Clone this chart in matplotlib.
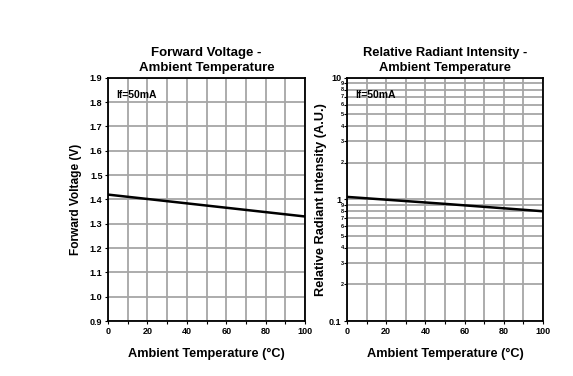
import matplotlib
matplotlib.use('Agg')
import matplotlib.pyplot as plt
from matplotlib.ticker import FixedLocator, NullFormatter

# data (If = 50mA)
temps = [0, 50, 100]
forward_voltage = [1.42, 1.375, 1.33]
relative_intensity = [1.05, 0.92, 0.80]

x_ticks = [0, 20, 40, 60, 80, 100]
vf_ticks = [0.9, 1.0, 1.1, 1.2, 1.3, 1.4, 1.5, 1.6, 1.7, 1.8, 1.9]

plt.rcParams['font.family'] = ['Liberation Sans', 'DejaVu Sans']
plt.rcParams['font.weight'] = 'bold'

grid_col = '#a6a6a6'

fig = plt.figure(figsize=(5.73, 3.76), dpi=100)
ax1 = fig.add_axes([0.1885, 0.146, 0.344, 0.647])
ax2 = fig.add_axes([0.6056, 0.146, 0.342, 0.647])

# left: forward voltage
ax1.plot(temps, forward_voltage, color='black', lw=1.8, zorder=3)
ax1.set_xlim(0, 100)
ax1.set_ylim(0.9, 1.9)
ax1.set_xticks(x_ticks)
ax1.set_xticks(range(0, 101, 10), minor=True)
ax1.set_yticks(vf_ticks)
ax1.set_yticklabels(['%.1f' % v for v in vf_ticks])
ax1.grid(True, which='both', axis='x', color=grid_col, lw=1.3)
ax1.grid(True, which='major', axis='y', color=grid_col, lw=1.3)
ax1.set_title('Forward Voltage -\nAmbient Temperature', fontsize=9.5,
              fontweight='bold', pad=5, linespacing=1.35)
ax1.set_xlabel('Ambient Temperature (°C)', fontsize=9.2, fontweight='bold', labelpad=9)
ax1.set_ylabel('Forward Voltage (V)', fontsize=8.6, fontweight='bold')
ax1.yaxis.set_label_coords(-0.132, 0.5)
ax1.text(0.04, 0.95, 'If=50mA', transform=ax1.transAxes, fontsize=7.5,
         fontweight='bold', va='top', ha='left')

# right: relative radiant intensity (log)
ax2.plot(temps, relative_intensity, color='black', lw=1.8, zorder=3)
ax2.set_yscale('log')
ax2.set_xlim(0, 100)
ax2.set_ylim(0.1, 10)
ax2.set_xticks(x_ticks)
ax2.set_xticks(range(0, 101, 10), minor=True)
ax2.yaxis.set_major_locator(FixedLocator([0.1, 1, 10]))
ax2.set_yticklabels(['0.1', '1', '10'])
minors = [m * d for d in (0.1, 1) for m in range(2, 10)]
ax2.yaxis.set_minor_locator(FixedLocator(minors))
ax2.yaxis.set_minor_formatter(NullFormatter())
for v in minors:
    ax2.text(-1.5, v, str(int(round(v / (0.1 if v < 1 else 1)))), fontsize=4,
             fontweight='bold', ha='right', va='center')
ax2.grid(True, which='both', color=grid_col, lw=1.3)
ax2.set_title('Relative Radiant Intensity -\nAmbient Temperature', fontsize=9.3,
              fontweight='bold', pad=5, linespacing=1.35)
ax2.set_xlabel('Ambient Temperature (°C)', fontsize=9.2, fontweight='bold', labelpad=9)
ax2.set_ylabel('Relative Radiant Intensity (A.U.)', fontsize=9.2, fontweight='bold')
ax2.yaxis.set_label_coords(-0.102, 0.5)
ax2.text(0.04, 0.95, 'If=50mA', transform=ax2.transAxes, fontsize=7.5,
         fontweight='bold', va='top', ha='left')

for ax in (ax1, ax2):
    ax.set_axisbelow(True)
    for s in ax.spines.values():
        s.set_linewidth(1.3)
    ax.tick_params(which='both', length=2, width=0.8, labelsize=6.5, pad=2)
    for lab in ax.get_xticklabels() + ax.get_yticklabels():
        lab.set_fontweight('bold')

fig.savefig('out.png', dpi=100)
